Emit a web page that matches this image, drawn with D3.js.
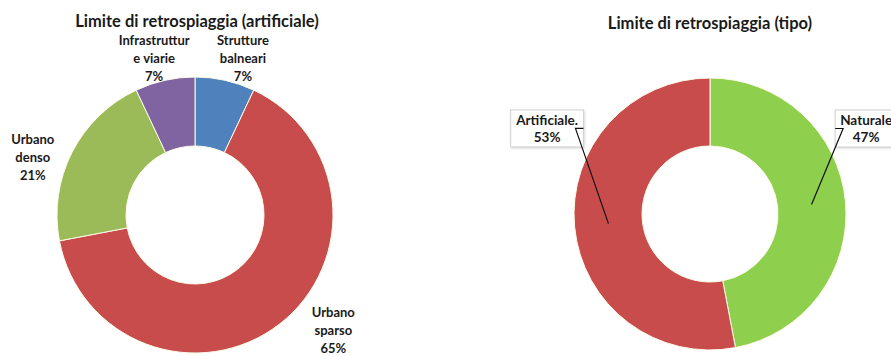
<!DOCTYPE html>
<html>
<head>
<meta charset="utf-8">
<script src="https://cdn.jsdelivr.net/npm/d3@7"></script>
<style>
  body { margin: 0; background: #fff; }
  svg { display: block; font-family: Lato, "Open Sans", sans-serif; }
</style>
</head>
<body>
<svg id="chart" width="891" height="356"></svg>
<script>
// left donut: artificial backshore limit
const leftTitle = "Limite di retrospiaggia (artificiale)"
const leftCategories = ["Strutture balneari", "Urbano sparso", "Urbano denso", "Infrastrutture viarie"]
const leftValues = [7, 65, 21, 7]
const leftLabelLines = [["Strutture", "balneari"], ["Urbano", "sparso"], ["Urbano", "denso"], ["Infrastruttur", "e viarie"]]

// right donut: backshore limit type
const rightTitle = "Limite di retrospiaggia (tipo)"
const rightCategories = ["Naturale", "Artificiale"]
const rightValues = [47, 53]
const rightLabelLines = [["Naturale"], ["Artificiale."]]

const svg = d3.select("#chart")
const pct = d3.format(".0%")

/**
 * Draws one donut with its title and labels.
 * labelPos: per slice, angle shift (deg) from the slice middle and radius of the label.
 */
function drawDonut(cfg) {
  const g = svg.append("g").attr("transform", `translate(${cfg.cx},${cfg.cy})`)
  const data = cfg.categories.map((c, i) => ({ name: c, value: cfg.values[i], lines: cfg.lines[i] }))
  const total = d3.sum(cfg.values)

  const pie = d3.pie().sort(null).value(d => d.value)
  const arcs = pie(data)
  const arc = d3.arc().innerRadius(cfg.inner).outerRadius(cfg.outer)

  const color = d3.scaleOrdinal().domain(cfg.categories).range(cfg.colors)

  g.selectAll(".slice")
    .data(arcs)
    .enter()
    .append("path")
    .attr("class", "slice")
    .attr("d", arc)
    .attr("fill", d => color(d.data.name))
    .attr("stroke", "#fdfbe8")
    .attr("stroke-width", 1)

  // title
  svg.append("text")
    .attr("x", cfg.cx + cfg.titleDx)
    .attr("y", cfg.titleY)
    .attr("text-anchor", "middle")
    .attr("font-size", 16.5)
    .attr("font-weight", "bold")
    .attr("fill", "#1a1a1a")
    .text(cfg.title)

  arcs.forEach((d, i) => {
    const mid = (d.startAngle + d.endAngle) / 2
    const p = cfg.labelPos[i]
    const [lx, ly] = d3.pointRadial(mid + p.da * Math.PI / 180, p.r)
    const lines = d.data.lines.concat([pct(d.data.value / total)])
    const lg = g.append("g").attr("transform", `translate(${lx},${ly})`)

    const txt = lg.append("text")
      .attr("text-anchor", "middle")
      .attr("font-size", cfg.labelSize)
      .attr("font-weight", "bold")
      .attr("fill", "#1a1a1a")

    const n = lines.length
    lines.forEach((line, k) => {
      txt.append("tspan")
        .attr("x", 0)
        .attr("y", (k - (n - 1) / 2) * cfg.lineGap)
        .attr("dy", "0.35em")
        .text(line)
    })

    if (cfg.boxed) {
      const bb = txt.node().getBBox()
      const pad = 5
      const bw = bb.width + pad * 2
      const bh = 37
      lg.insert("rect", "text")
        .attr("x", -bw / 2)
        .attr("y", -bh / 2)
        .attr("width", bw)
        .attr("height", bh)
        .attr("fill", "#fff")
        .attr("stroke", "#d0d0d0")
        .attr("stroke-width", 1)
        .style("filter", "drop-shadow(1px 1px 1px rgba(0,0,0,0.15))")

      // leader line from box edge to slice centroid
      const [tx, ty] = arc.centroid(d)
      const side = tx < lx ? -1 : 1
      const ex = lx + side * bw / 2
      g.append("polyline")
        .attr("points", [[ex, ly], [ex - side * 8, ly], [tx, ty]].map(q => q.join(",")).join(" "))
        .attr("fill", "none")
        .attr("stroke", "#111")
        .attr("stroke-width", 1.2)
    }
  })
}

drawDonut({
  cx: 195, cy: 215, outer: 138, inner: 69,
  title: leftTitle, titleY: 27, titleDx: 2,
  categories: leftCategories, values: leftValues, lines: leftLabelLines,
  colors: ["#4F81BD", "#C84C4C", "#9BBB59", "#8064A2"],
  labelSize: 13, lineGap: 18, boxed: false,
  labelPos: [{ da: 4.4, r: 164 }, { da: -12.4, r: 180 }, { da: -7.6, r: 172 }, { da: -2, r: 162 }]
})

drawDonut({
  cx: 710, cy: 214, outer: 136, inner: 68,
  title: rightTitle, titleY: 29, titleDx: 0,
  categories: rightCategories, values: rightValues, lines: rightLabelLines,
  colors: ["#8FCF4E", "#C84C4C"],
  labelSize: 13.5, lineGap: 17, boxed: true,
  labelPos: [{ da: -23.3, r: 178 }, { da: 33.1, r: 184 }]
})
</script>
</body>
</html>
